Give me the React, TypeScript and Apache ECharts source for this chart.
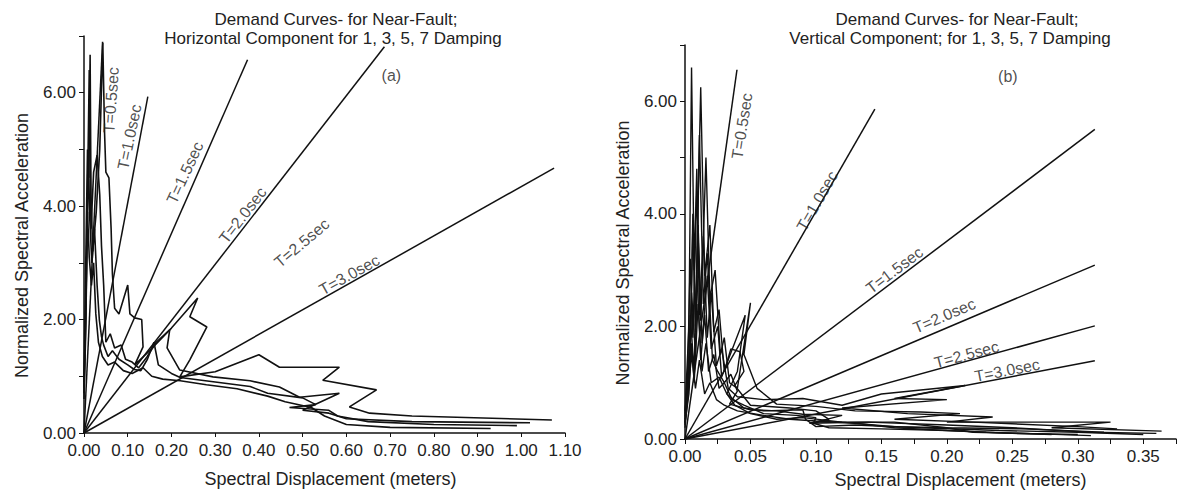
import React, { useEffect, useRef } from "react";
import * as echarts from "echarts";

type Pt = [number, number];

// ---------- (a) Horizontal component ----------
const H_X_TICKS = [0, 0.1, 0.2, 0.3, 0.4, 0.5, 0.6, 0.7, 0.8, 0.9, 1.0, 1.1];
const H_DAMP_1: Pt[] = [[0,0.9],[0.004,3.0],[0.008,5.0],[0.011,4.5],[0.014,6.67],[0.016,4.2],[0.02,3.2],[0.028,3.9],[0.036,5.0],[0.043,6.88],[0.047,5.3],[0.05,4.6],[0.057,4.5],[0.062,3.6],[0.065,2.8],[0.07,2.2],[0.08,2.1],[0.1,2.61],[0.105,2.1],[0.116,2.03],[0.132,2.0],[0.135,1.52],[0.116,1.2],[0.15,1.45],[0.2,1.85],[0.26,2.38],[0.242,2.05],[0.281,1.87],[0.242,1.29],[0.219,0.99],[0.3,1.08],[0.4,1.38],[0.447,1.16],[0.584,1.16],[0.546,0.93],[0.669,0.76],[0.607,0.46],[0.653,0.35],[0.75,0.3],[1.07,0.23]];
const H_DAMP_3: Pt[] = [[0,0.8],[0.005,2.6],[0.012,6.4],[0.014,4.8],[0.016,3.6],[0.022,4.6],[0.03,4.9],[0.036,4.2],[0.04,3.3],[0.045,2.6],[0.048,2.0],[0.05,1.6],[0.06,1.75],[0.07,1.5],[0.085,1.55],[0.095,1.3],[0.11,1.25],[0.125,1.15],[0.144,1.34],[0.165,1.6],[0.196,1.82],[0.19,1.5],[0.219,1.11],[0.295,0.99],[0.38,0.92],[0.447,0.81],[0.493,0.63],[0.584,0.7],[0.5,0.4],[0.56,0.35],[0.6,0.25],[0.75,0.2],[1.02,0.18]];
const H_DAMP_5: Pt[] = [[0,0.7],[0.004,2.0],[0.01,4.9],[0.013,3.8],[0.018,3.0],[0.024,3.6],[0.03,2.6],[0.035,2.0],[0.04,1.7],[0.045,1.55],[0.055,1.35],[0.065,1.45],[0.08,1.3],[0.1,1.2],[0.115,1.12],[0.13,1.1],[0.145,1.3],[0.16,1.6],[0.17,1.2],[0.2,1.05],[0.22,0.98],[0.3,0.9],[0.38,0.82],[0.42,0.7],[0.5,0.62],[0.53,0.5],[0.47,0.45],[0.56,0.4],[0.58,0.3],[0.65,0.2],[0.8,0.15],[0.99,0.13]];
const H_DAMP_7: Pt[] = [[0,0.6],[0.004,1.8],[0.008,3.9],[0.012,3.1],[0.017,2.6],[0.022,3.0],[0.027,2.1],[0.033,1.6],[0.042,1.35],[0.055,1.2],[0.07,1.25],[0.09,1.1],[0.11,1.05],[0.135,1.15],[0.155,1.0],[0.18,0.95],[0.22,0.92],[0.28,0.85],[0.35,0.78],[0.42,0.65],[0.46,0.55],[0.52,0.45],[0.55,0.3],[0.6,0.15],[0.7,0.1],[0.93,0.08]];
// period lines (origin -> end point)
const H_LINE_ENDS: Pt[] = [[0.0425,6.9],[0.146,5.93],[0.374,6.58],[0.687,6.81],[1.075,4.67]];
const H_LABELS = ["T=0.5sec","T=1.0sec","T=1.5sec","T=2.0sec","T=2.5sec","T=3.0sec"];
const H_LABEL_SD = [0.062,0.104,0.231,0.363,0.498,0.607];
const H_LABEL_SA = [5.87,5.22,4.59,3.84,3.35,2.79];
const H_LABEL_ROT = [86,78,65,52,40,29];

// ---------- (b) Vertical component ----------
const V_CURVE_1: Pt[] = [[0,0.5],[0.003,2.0],[0.005,6.6],[0.007,3.0],[0.009,4.8],[0.011,2.2],[0.014,3.6],[0.017,1.8],[0.02,2.6],[0.024,1.3],[0.028,1.6],[0.033,0.9],[0.04,0.75],[0.06,0.7],[0.09,0.72],[0.12,0.6],[0.15,0.8],[0.214,0.95],[0.16,0.72],[0.2,0.7],[0.12,0.55],[0.17,0.45],[0.235,0.39],[0.2,0.3],[0.325,0.3],[0.28,0.2],[0.364,0.14]];
const V_CURVE_2: Pt[] = [[0,0.45],[0.004,1.6],[0.006,3.8],[0.008,2.0],[0.012,6.25],[0.015,2.9],[0.019,3.8],[0.022,1.9],[0.026,2.3],[0.03,1.2],[0.035,1.6],[0.042,1.55],[0.045,1.2],[0.038,0.95],[0.05,0.6],[0.08,0.55],[0.1,0.5],[0.11,0.35],[0.095,0.28],[0.14,0.3],[0.2,0.25],[0.25,0.2],[0.31,0.12],[0.36,0.1]];
const V_CURVE_3: Pt[] = [[0,0.4],[0.002,1.2],[0.004,3.2],[0.006,1.8],[0.009,4.4],[0.012,2.1],[0.016,5.0],[0.019,2.5],[0.023,3.0],[0.027,1.5],[0.03,1.8],[0.034,1.0],[0.04,0.9],[0.05,2.42],[0.045,1.5],[0.055,0.9],[0.07,0.62],[0.1,0.58],[0.13,0.5],[0.18,0.48],[0.21,0.45],[0.16,0.35],[0.22,0.3],[0.3,0.22],[0.33,0.18]];
const V_CURVE_4: Pt[] = [[0,0.35],[0.003,1.0],[0.005,2.6],[0.008,1.5],[0.01,3.8],[0.013,1.7],[0.017,2.9],[0.02,1.6],[0.025,2.0],[0.028,1.1],[0.046,2.2],[0.04,1.2],[0.032,0.8],[0.045,0.55],[0.06,0.5],[0.09,0.52],[0.092,0.35],[0.1,0.22],[0.13,0.25],[0.18,0.2],[0.24,0.15],[0.3,0.12],[0.35,0.08]];
const V_CURVE_5: Pt[] = [[0,0.3],[0.002,0.9],[0.004,2.2],[0.007,1.2],[0.009,3.0],[0.012,1.4],[0.015,2.2],[0.018,1.2],[0.022,1.5],[0.026,0.9],[0.03,1.0],[0.036,0.7],[0.045,0.6],[0.06,0.45],[0.085,0.42],[0.1,0.38],[0.098,0.28],[0.11,0.2],[0.15,0.18],[0.2,0.15],[0.25,0.1],[0.3,0.08]];
const V_CURVE_6: Pt[] = [[0,0.28],[0.003,0.8],[0.005,1.7],[0.007,1.0],[0.01,2.4],[0.013,1.2],[0.016,1.7],[0.02,1.0],[0.026,1.1],[0.032,0.8],[0.038,0.6],[0.05,0.45],[0.07,0.35],[0.09,0.38],[0.12,0.3],[0.16,0.22],[0.2,0.2],[0.22,0.12],[0.26,0.1],[0.31,0.06]];
const V_CURVE_7: Pt[] = [[0,0.25],[0.004,1.4],[0.006,4.0],[0.008,1.9],[0.011,5.4],[0.014,2.4],[0.017,3.3],[0.021,1.4],[0.025,1.2],[0.03,1.0],[0.035,1.15],[0.04,0.85],[0.034,0.62],[0.05,0.52],[0.07,0.5],[0.09,0.44],[0.12,0.42],[0.1,0.3],[0.16,0.3],[0.2,0.2],[0.26,0.18],[0.32,0.12]];
const V_CURVE_8: Pt[] = [[0,0.2],[0.002,0.7],[0.005,1.5],[0.008,0.9],[0.011,1.4],[0.015,0.8],[0.019,1.0],[0.024,0.7],[0.03,0.6],[0.04,0.5],[0.06,0.42],[0.08,0.35],[0.1,0.32],[0.13,0.28],[0.16,0.2],[0.2,0.15],[0.23,0.12],[0.28,0.08]];
const V_LINE_ENDS: Pt[] = [[0.0397,6.56],[0.145,5.86],[0.313,5.5],[0.313,3.09],[0.313,2.01],[0.313,1.39]];
const V_LABELS = ["T=0.5sec","T=1.0sec","T=1.5sec","T=2.0sec","T=2.5sec","T=3.0sec"];
const V_LABEL_SD = [0.0435,0.101,0.16,0.198,0.215,0.246];
const V_LABEL_SA = [5.56,4.23,3.0,2.19,1.5,1.22];
const V_LABEL_ROT = [81,60,37,23,15,11];

const TITLE_A = ["Demand Curves- for Near-Fault;", "Horizontal Component for 1, 3, 5, 7 Damping"];
const TITLE_B = ["Demand Curves- for Near-Fault;", "Vertical Component; for 1, 3, 5, 7 Damping"];
const X_NAME = "Spectral Displacement (meters)";
const Y_NAME = "Normalized Spectral Acceleration";

const FONT = "'Liberation Sans', Arial, sans-serif";
const INK = "#111";
const TXT = "#222";

export default function App() {
  const ref = useRef<HTMLDivElement>(null);
  useEffect(() => {
    if (!ref.current) return;
    const chart = echarts.init(ref.current, undefined, { renderer: "svg" });

    const curve = (data: Pt[], idx: number, width = 1.6) => ({
      type: "line", xAxisIndex: idx, yAxisIndex: idx, data, symbol: "none", silent: true,
      lineStyle: { color: INK, width }, z: 3,
    });
    const period = (end: Pt, idx: number) => curve([[0, 0], end], idx, 1.5);
    const labels = (names: string[], sd: number[], sa: number[], rot: number[], idx: number) => ({
      type: "scatter", xAxisIndex: idx, yAxisIndex: idx, symbolSize: 1, silent: true,
      itemStyle: { color: "rgba(0,0,0,0)" }, z: 5,
      data: names.map((n, i) => ({ name: n, value: [sd[i], sa[i]], label: { rotate: rot[i] } })),
      label: { show: true, position: "inside", formatter: "{b}", color: TXT, fontSize: 16, fontFamily: FONT },
    });

    const yAxis = (idx: number) => ({
      type: "value", gridIndex: idx, min: 0, max: 7, interval: 1,
      name: Y_NAME, nameLocation: "middle", nameGap: 53,
      nameTextStyle: { fontSize: 18, fontFamily: FONT, color: TXT, padding: [0, 22, 0, 0] },
      axisLine: { show: true, lineStyle: { color: INK, width: 1.5 } },
      axisTick: { show: true, length: 5, lineStyle: { color: INK } },
      axisLabel: { margin: 8, fontSize: 17, fontFamily: FONT, color: TXT,
        formatter: (v: number) => (Math.round(v) % 2 === 0 && v < 7 ? v.toFixed(2) : "") },
      splitLine: { show: false },
    });

    const titleText = (text: string, x: number, y: number) => ({
      type: "text", x, y,
      style: { text, font: `17px ${FONT}`, fill: TXT, align: "center", verticalAlign: "middle" },
    });

    const option: any = {
      animation: false,
      backgroundColor: "#fff",
      grid: [
        { left: 84, top: 36, width: 481, height: 397 },
        { left: 685, top: 45, width: 491, height: 397 },
      ],
      xAxis: [
        {
          type: "value", gridIndex: 0, min: H_X_TICKS[0], max: H_X_TICKS[H_X_TICKS.length - 1], interval: 0.1,
          name: X_NAME, nameLocation: "middle", nameGap: 37,
          nameTextStyle: { fontSize: 18, fontFamily: FONT, color: TXT, padding: [0, 0, 0, 12] },
          axisLine: { lineStyle: { color: INK, width: 1.5 } },
          axisTick: { show: true, length: 4, lineStyle: { color: INK } },
          axisLabel: { margin: 9, fontSize: 17, fontFamily: FONT, color: TXT, formatter: (v: number) => v.toFixed(2) },
          splitLine: { show: false },
        },
        {
          type: "value", gridIndex: 1, min: 0, max: 0.375, interval: 0.025,
          name: X_NAME, nameLocation: "middle", nameGap: 32,
          nameTextStyle: { fontSize: 18, fontFamily: FONT, color: TXT, padding: [0, 0, 0, 60] },
          axisLine: { lineStyle: { color: INK, width: 1.5 } },
          axisTick: { show: true, length: 5, lineStyle: { color: INK } },
          axisLabel: { margin: 9, fontSize: 17, fontFamily: FONT, color: TXT,
            formatter: (v: number) => (Math.round(v * 1000) % 50 === 0 ? v.toFixed(2) : "") },
          splitLine: { show: false },
        },
      ],
      yAxis: [yAxis(0), yAxis(1)],
      graphic: [
        titleText(TITLE_A[0], 336, 19),
        titleText(TITLE_A[1], 333, 38),
        titleText(TITLE_B[0], 957, 19),
        titleText(TITLE_B[1], 950, 38),
      ],
      series: [
        curve(H_DAMP_1, 0), curve(H_DAMP_3, 0), curve(H_DAMP_5, 0), curve(H_DAMP_7, 0),
        ...H_LINE_ENDS.map((e) => period(e, 0)),
        labels(H_LABELS, H_LABEL_SD, H_LABEL_SA, H_LABEL_ROT, 0),
        labels(["(a)"], [0.703], [6.31], [0], 0),
        curve(V_CURVE_1, 1, 1.4), curve(V_CURVE_2, 1, 1.4), curve(V_CURVE_3, 1, 1.4), curve(V_CURVE_4, 1, 1.4),
        curve(V_CURVE_5, 1, 1.4), curve(V_CURVE_6, 1, 1.4), curve(V_CURVE_7, 1, 1.4), curve(V_CURVE_8, 1, 1.4),
        ...V_LINE_ENDS.map((e) => period(e, 1)),
        labels(V_LABELS, V_LABEL_SD, V_LABEL_SA, V_LABEL_ROT, 1),
        labels(["(b)"], [0.2466], [6.44], [0], 1),
      ],
    };
    chart.setOption(option);
    return () => chart.dispose();
  }, []);

  return (
    <div
      ref={ref}
      style={{ position: "fixed", left: 0, top: 0, width: 1180, height: 494, background: "#fff" }}
    />
  );
}
